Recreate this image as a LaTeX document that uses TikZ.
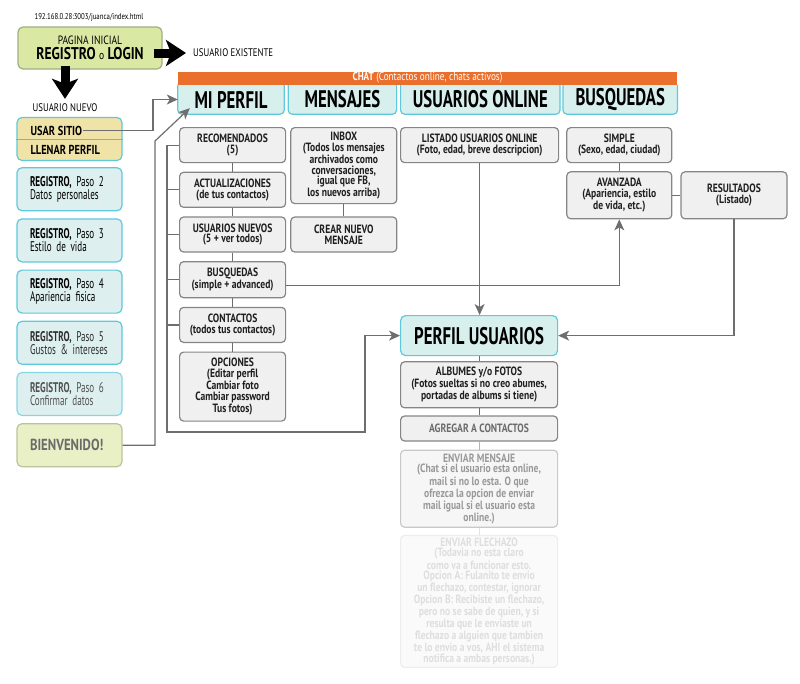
\documentclass[tikz,border=0pt]{standalone}
\usepackage{fontspec}
\setmainfont{PT Sans}[FakeStretch=0.8]
\newfontfamily\condfont{PT Sans}[FakeStretch=0.7]
\newfontfamily\regfont{PT Sans}[FakeStretch=0.65]
\usetikzlibrary{arrows.meta,positioning,calc,backgrounds}
\definecolor{inicfill}{HTML}{D9E8A2}
\definecolor{inicline}{HTML}{A3AD83}
\definecolor{sitefill}{HTML}{F0E3A8}
\definecolor{cyanline}{HTML}{5FC8DA}
\definecolor{regfill}{HTML}{DDEFEE}
\definecolor{tabfill}{HTML}{D7EFED}
\definecolor{boxfill}{HTML}{F0F0F0}
\definecolor{boxline}{HTML}{858585}
\definecolor{endfill}{HTML}{EAF0C6}
\definecolor{endline}{HTML}{BCC39C}
\definecolor{chatorange}{HTML}{EA6E2C}
\definecolor{linkgray}{HTML}{6E6E6E}
\newcommand{\boxfont}{\fontsize{12}{10.8}\selectfont\bfseries}
\newcommand{\tabtext}{\condfont\fontsize{24}{24}\selectfont\bfseries}
\newcommand{\regtext}{\regfont\fontsize{14}{11.5}\selectfont\spaceskip=3pt plus 1pt\hyphenpenalty=10000}
\newcommand{\regpaso}[2]{\textbf{REGISTRO,} Paso #1\\#2}
\tikzset{
  midbox/.style={rectangle, rounded corners=4pt, draw=boxline, fill=boxfill, line width=1.2pt,
                 align=center, inner sep=2pt, font=\boxfont, text=black!88,
                 minimum width=106pt, minimum height=35pt},
  startbox/.style={rectangle, rounded corners=5pt, draw=inicline, fill=inicfill, line width=1.2pt,
                   align=center, inner sep=2pt, font=\fontsize{12}{15}\selectfont},
  regbox/.style={rectangle, rounded corners=5pt, draw=cyanline, fill=regfill, line width=1.2pt,
                 align=left, inner xsep=13pt, inner ysep=2pt, text width=79pt,
                 minimum height=43pt, font=\regtext},
  sitebox/.style={regbox, fill=sitefill},
  endbox/.style={regbox, draw=endline, fill=endfill, text=black!58,
                 font=\fontsize{16}{16}\selectfont\bfseries},
  sitetext/.style={inner sep=1pt, font=\fontsize{13}{13}\selectfont\bfseries},
  tabbox/.style={inner sep=0pt, minimum height=29pt, font=\tabtext},
  tabline/.style={draw=cyanline, fill=tabfill, line width=1.2pt},
  perfilbox/.style={rectangle, rounded corners=5pt, draw=cyanline, fill=tabfill, line width=1.2pt,
                    font=\tabtext, inner sep=0pt},
  plain/.style={inner sep=1pt, font=\fontsize{11}{11}\selectfont},
  bigarr/.style={line width=9pt, -{Stealth[length=20pt, width=26pt, inset=5pt]}},
  link/.style={draw=linkgray, line width=1.2pt},
  arr/.style={link, -{Stealth[length=11pt, width=10pt, inset=3pt]}},
}
\begin{document}
\begin{tikzpicture}[x=1pt, y=-1pt]
  \useasboundingbox (0,0) rectangle (800,683);
  % entrada
  \node[plain, font=\fontsize{8.5}{9}\selectfont] (url) at (89,17) {192.168.0.28:3003/juanca/index.html};
  \node[startbox, minimum width=144pt, minimum height=42pt] (inicio) at (90,48)
       {PAGINA INICIAL\\
        {\fontsize{17}{17}\selectfont\bfseries REGISTRO {\mdseries\fontsize{12}{12}\selectfont o} LOGIN}};
  \node[plain, anchor=west] (existente) at (192,53) {USUARIO EXISTENTE};
  \node[plain] (nuevo) at (65,108) {USUARIO NUEVO};
  \draw[bigarr] ($(inicio.east |- existente)+(-9,0)$) -- ($(existente.west)+(-6,0)$);
  \draw[bigarr] ($(inicio.south -| nuevo)+(0,-4)$) -- ($(nuevo.north)+(0,-4)$);
  % registro
  \node[sitebox] (sitio) at (69.5,139) {};
  \draw[draw=inicline, line width=1pt] (sitio.west) -- (sitio.east);
  \node[sitetext, anchor=west] (usar) at ($(sitio.west)+(13,-8.5)$) {USAR SITIO};
  \node[sitetext, anchor=west] (llenar) at ($(sitio.west)+(13,10.5)$) {LLENAR PERFIL};
  \node[regbox, below=6pt of sitio] (paso2) {\regpaso{2}{Datos personales}};
  \node[regbox, below=7pt of paso2] (paso3) {\regpaso{3}{Estilo de vida}};
  \node[regbox, below=7pt of paso3] (paso4) {\regpaso{4}{Apariencia fisica}};
  \node[regbox, below=7pt of paso4, text=black!82] (paso5) {\regpaso{5}{Gustos \& intereses}};
  \node[regbox, below=7pt of paso5, text=black!68, draw=cyanline!75] (paso6) {\regpaso{6}{Confirmar datos}};
  \node[endbox, below=7pt of paso6] (bienv) {BIENVENIDO!};
  % pestanas
  \node[tabbox, minimum width=106pt] (miperfil) at (231,99.5) {MI PERFIL};
  \node[tabbox, minimum width=108pt, right=4pt of miperfil] (mensajes) {MENSAJES};
  \node[tabbox, minimum width=159pt, right=4pt of mensajes] (online) {USUARIOS ONLINE};
  \node[tabbox, minimum width=114pt, right=3pt of online] (busquedas) {BUSQUEDAS};
  \begin{scope}[on background layer]
    \foreach \t in {miperfil,mensajes,online,busquedas}
      \filldraw[tabline] (\t.north west) [rounded corners=4pt] -- (\t.south west)
                         -- (\t.south east) -- (\t.north east);
  \end{scope}
  \node[fill=chatorange, text=white, inner sep=0pt, minimum width=499pt, minimum height=13pt,
        anchor=south west, font=\fontsize{11.5}{11.5}\selectfont] (chat) at (miperfil.north west)
       {\textbf{CHAT} (Contactos online, chats activos)};
  % mi perfil
  \node[midbox, anchor=north west] (reco) at (179,127) {RECOMENDADOS\\(5)};
  \node[midbox, below=8.5pt of reco] (actu) {ACTUALIZACIONES\\(de tus contactos)};
  \node[midbox, below=8.5pt of actu] (nuevos) {USUARIOS NUEVOS\\(5 + ver todos)};
  \node[midbox, below=8.5pt of nuevos, minimum height=36pt] (busq) {BUSQUEDAS\\(simple + advanced)};
  \node[midbox, below=8.5pt of busq] (contactos) {CONTACTOS\\(todos tus contactos)};
  \node[midbox, below=8.5pt of contactos, minimum height=69pt] (opciones)
       {OPCIONES\\(Editar perfil\\Cambiar foto\\Cambiar password\\Tus fotos)};
  % mensajes
  \node[midbox, minimum height=76pt, anchor=north west] (inbox) at ($(reco.north east)+(4,0)$)
       {INBOX\\(Todos los mensajes\\archivados como\\conversaciones,\\igual que FB,\\los nuevos arriba)};
  \node[midbox, right=4pt of nuevos] (crear) {CREAR NUEVO\\MENSAJE};
  % usuarios online y busquedas
  \node[midbox, minimum width=158pt, anchor=north west] (listado) at (400,127)
       {LISTADO USUARIOS ONLINE\\(Foto, edad, breve descripcion)};
  \node[midbox, minimum width=105pt, right=7pt of listado] (simple) {SIMPLE\\(Sexo, edad, ciudad)};
  \node[midbox, minimum width=105pt, minimum height=47pt, below=8pt of simple] (avanz)
       {AVANZADA\\(Apariencia, estilo\\de vida, etc.)};
  \node[midbox, minimum height=47pt, right=8pt of avanz] (result) {RESULTADOS\\(Listado)};
  % perfil usuarios
  \node[perfilbox, minimum width=157pt, minimum height=40pt, anchor=north west] (perfil) at (400,315)
       {PERFIL USUARIOS};
  \node[midbox, minimum width=157pt, minimum height=46pt, below=5pt of perfil] (albumes)
       {ALBUMES y/o FOTOS\\(Fotos sueltas si no creo abumes,\\portadas de albums si tiene)};
  \node[midbox, minimum width=157pt, minimum height=25pt, below=7pt of albumes, text=black!58] (agregar)
       {AGREGAR A CONTACTOS};
  \node[midbox, minimum width=157pt, minimum height=77pt, below=8pt of agregar,
        text=black!40, draw=boxline!45, fill=boxfill!60] (enviar)
       {ENVIAR MENSAJE\\(Chat si el usuario esta online,\\mail si no lo esta. O que\\ofrezca la opcion de enviar\\mail igual si el usuario esta\\online.)};
  \node[midbox, minimum width=157pt, minimum height=132pt, below=7pt of enviar,
        text=black!13, draw=boxline!15, fill=boxfill!30] (flechazo)
       {ENVIAR FLECHAZO\\(Todavia no esta claro\\como va a funcionar esto.\\Opcion A: Fulanito te envio\\un flechazo, contestar, ignorar\\Opcion B: Recibiste un flechazo,\\pero no se sabe de quien, y si\\resulta que le enviaste un\\flechazo a alguien que tambien\\te lo envio a vos, AHI el sistema\\notifica a ambas personas.)};
  % conexiones
  \draw[link] (reco) -- (actu);
  \draw[link] (actu) -- (nuevos);
  \draw[link] (nuevos) -- (busq);
  \draw[link] (busq) -- (contactos);
  \draw[link] (contactos) -- (opciones);
  \draw[link] (inbox) -- (crear);
  \draw[link] (simple) -- (avanz);
  \draw[link] (avanz) -- (result);
  \draw[link] (perfil) -- (albumes);
  \draw[link] (albumes) -- (agregar);
  \draw[link, draw=linkgray!50] (agregar) -- (enviar);
  \draw[link, draw=linkgray!20] (enviar) -- (flechazo);
  \coordinate (jog) at (153,97);
  \draw[arr] (usar.east) -- (usar.east -| jog) |- (miperfil.west);
  \coordinate (kink) at (155,141);
  \draw[arr] (bienv.east) -| (kink) -- ($(miperfil.south west)+(12,-6)$);
  \coordinate (brk) at (167,432);
  \coordinate (turn) at (365,432);
  \draw[arr] (reco.west) -| (brk) -- (turn) |- (perfil.west);
  \foreach \n in {actu,nuevos,busq,contactos}
    \draw[link] (\n.west) -- (\n.west -| brk);
  \draw[arr] ($(busq.east)+(0,6)$) -| (avanz.south);
  \draw[arr] (listado.south) -- (listado.south |- perfil.north);
  \draw[arr] (result.south) |- (perfil.east);
\end{tikzpicture}
\end{document}
